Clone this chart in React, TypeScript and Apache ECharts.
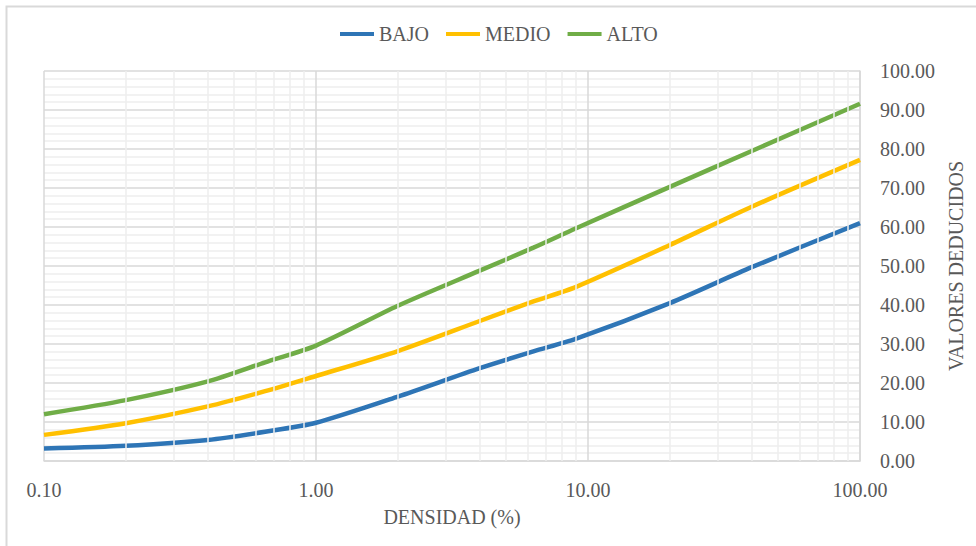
import React, { useEffect, useRef } from "react";
import * as echarts from "echarts";

// Densidad (%) sample points shared by the three curves
const densidad = [0.1, 0.2, 0.4, 0.65, 1, 2, 4, 6.3, 9, 20, 40, 100];

// Valores deducidos per severity level
const bajo = [3.2, 3.9, 5.4, 7.5, 9.8, 16.5, 23.8, 28.1, 31.3, 40.5, 49.7, 61.0];
const medio = [6.7, 9.7, 14.0, 17.9, 21.8, 28.2, 35.9, 40.9, 44.6, 55.4, 65.2, 77.2];
const alto = [12.0, 15.6, 20.4, 25.3, 29.6, 39.8, 48.8, 54.7, 59.6, 70.3, 79.5, 91.6];

const seriesNames = ["BAJO", "MEDIO", "ALTO"];
const seriesColors = ["#2E75B6", "#FFC000", "#70AD47"];

// Intermediate log-decade lines (2..9 within each decade)
const minorDensities = [
  0.2, 0.3, 0.4, 0.5, 0.6, 0.7, 0.8, 0.9,
  2, 3, 4, 5, 6, 7, 8, 9,
  20, 30, 40, 50, 60, 70, 80, 90,
];

const FONT = "'Liberation Serif', 'Times New Roman', serif";
const TEXT = "#595959";

export default function App() {
  const ref = useRef<HTMLDivElement>(null);

  useEffect(() => {
    document.body.style.margin = "0";
    if (!ref.current) return;
    const chart = echarts.init(ref.current, undefined, { renderer: "svg" });

    const values = [bajo, medio, alto];
    const lineSeries = seriesNames.map((name, i) => ({
      name,
      type: "line",
      data: densidad.map((d, j) => [d, values[i][j]]),
      smooth: 0.25,
      showSymbol: false,
      symbol: "none",
      z: 3,
      lineStyle: { color: seriesColors[i], width: 4.5 },
      itemStyle: { color: seriesColors[i] },
    }));

    chart.setOption({
      animation: false,
      backgroundColor: "#ffffff",
      textStyle: { fontFamily: FONT },
      legend: {
        top: 19,
        left: 335,
        itemWidth: 34,
        itemHeight: 4,
        itemGap: 17,
        icon: "rect",
        data: seriesNames,
        textStyle: { color: TEXT, fontSize: 20, fontFamily: FONT },
      },
      grid: { left: 44, right: 116, top: 71, bottom: 85, containLabel: false },
      xAxis: {
        type: "log",
        logBase: 10,
        min: 0.1,
        max: 100,
        name: "DENSIDAD (%)",
        nameLocation: "middle",
        nameGap: 46,
        nameTextStyle: { color: TEXT, fontSize: 20, fontFamily: FONT },
        axisLine: { show: true, lineStyle: { color: "#d9d9d9", width: 1.5 } },
        axisTick: { show: false },
        axisLabel: {
          color: TEXT,
          fontSize: 20,
          fontFamily: FONT,
          margin: 19,
          formatter: (v: number) => v.toFixed(2),
        },
        splitLine: { show: true, lineStyle: { color: "#d9d9d9", width: 1.5 } },
      },
      yAxis: {
        type: "value",
        position: "right",
        min: 0,
        max: 100,
        interval: 10,
        name: "VALORES DEDUCIDOS",
        nameLocation: "middle",
        nameRotate: 90,
        nameGap: 84,
        nameTextStyle: { color: TEXT, fontSize: 20, fontFamily: FONT },
        axisLine: { show: true, lineStyle: { color: "#d9d9d9", width: 1.5 } },
        axisTick: { show: false },
        axisLabel: {
          color: TEXT,
          fontSize: 20,
          fontFamily: FONT,
          margin: 20,
          formatter: (v: number) => v.toFixed(2),
        },
        splitLine: { show: true, lineStyle: { color: "#d9d9d9", width: 1.5 } },
        minorTick: { show: false, splitNumber: 5 },
        minorSplitLine: { show: true, lineStyle: { color: "#eeeeee", width: 1.5 } },
      },
      series: [
        {
          name: "minor",
          type: "line",
          data: [],
          z: 1,
          silent: true,
          markLine: {
            silent: true,
            symbol: "none",
            label: { show: false },
            lineStyle: { color: "#eeeeee", width: 1.5, type: "solid" },
            data: minorDensities.map((d) => ({ xAxis: d })),
          },
        },
        ...lineSeries,
      ],
      graphic: [
        {
          type: "polyline",
          shape: { points: [[6.5, 546], [6.5, 6.5], [976, 6.5]] },
          style: { stroke: "#d9d9d9", lineWidth: 2, fill: "none" },
          silent: true,
        },
      ],
    });

    return () => chart.dispose();
  }, []);

  return <div ref={ref} style={{ width: 976, height: 546 }} />;
}
